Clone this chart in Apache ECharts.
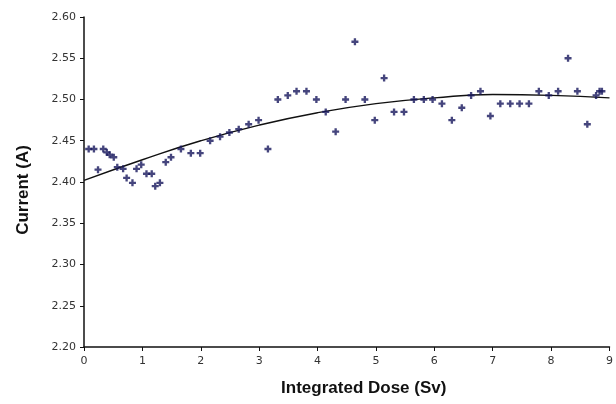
<!DOCTYPE html>
<html>
<head>
<meta charset="utf-8">
<script src="https://cdn.jsdelivr.net/npm/echarts@6/dist/echarts.min.js"></script>
<style>
  html, body { margin: 0; padding: 0; background: #fff; }
  #chart { width: 616px; height: 404px; }
</style>
</head>
<body>
<div id="chart"></div>
<script>
const doseSv = [0.08, 0.17, 0.24, 0.33, 0.39, 0.44, 0.51, 0.57, 0.67, 0.73, 0.83, 0.90, 0.98,
  1.07, 1.16, 1.22, 1.30, 1.40, 1.49, 1.66, 1.83, 1.99, 2.16, 2.33, 2.49, 2.65, 2.82, 2.99,
  3.15, 3.32, 3.49, 3.64, 3.81, 3.98, 4.14, 4.31, 4.48, 4.64, 4.81, 4.98, 5.14, 5.31, 5.48,
  5.65, 5.82, 5.97, 6.13, 6.30, 6.47, 6.63, 6.79, 6.96, 7.13, 7.30, 7.46, 7.62, 7.79, 7.96,
  8.12, 8.29, 8.45, 8.62, 8.77, 8.83, 8.87];
const currentA = [2.440, 2.440, 2.415, 2.440, 2.436, 2.433, 2.430, 2.418, 2.416, 2.405, 2.399, 2.416, 2.421,
  2.410, 2.410, 2.395, 2.399, 2.424, 2.430, 2.440, 2.435, 2.435, 2.450, 2.455, 2.460, 2.464, 2.470, 2.475,
  2.440, 2.500, 2.505, 2.510, 2.510, 2.500, 2.485, 2.461, 2.500, 2.570, 2.500, 2.475, 2.526, 2.485, 2.485,
  2.500, 2.500, 2.500, 2.495, 2.475, 2.490, 2.505, 2.510, 2.480, 2.495, 2.495, 2.495, 2.495, 2.510, 2.505,
  2.510, 2.550, 2.510, 2.470, 2.505, 2.510, 2.510];

// trend line, read at each whole Sv
const trendX = [0, 1, 2, 3, 4, 5, 6, 7, 8, 9];
const trendY = [2.402, 2.427, 2.450, 2.469, 2.484, 2.495, 2.502, 2.506, 2.505, 2.502];

const xTicks = [0, 9, 1];          // min, max, step
const yTicks = [2.20, 2.60, 0.05]; // min, max, step

const chart = echarts.init(document.getElementById('chart'));

const labelStyle = {
  color: '#333',
  fontFamily: 'DejaVu Sans',
  fontSize: 11
};
const nameStyle = {
  color: '#111',
  fontFamily: 'Liberation Sans',
  fontWeight: 'bold',
  fontSize: 17
};

const option = {
  animation: false,
  backgroundColor: '#fff',
  grid: { left: 84, right: 5, top: 17, bottom: 57 },
  xAxis: {
    type: 'value',
    min: xTicks[0],
    max: xTicks[1],
    interval: xTicks[2],
    name: 'Integrated Dose (Sv)',
    nameLocation: 'middle',
    nameGap: 33,
    nameTextStyle: Object.assign({ padding: [0, 0, 0, 34] }, nameStyle),
    axisLine: { lineStyle: { color: '#111', width: 1.5 } },
    axisTick: { show: true, length: 4, lineStyle: { color: '#111' } },
    axisLabel: Object.assign({ margin: 9 }, labelStyle),
    splitLine: { show: false }
  },
  yAxis: {
    type: 'value',
    min: yTicks[0],
    max: yTicks[1],
    interval: yTicks[2],
    name: 'Current (A)',
    nameLocation: 'middle',
    nameGap: 52,
    nameTextStyle: Object.assign({ padding: [0, 16, 0, 0] }, nameStyle),
    axisLine: { show: true, lineStyle: { color: '#111', width: 1.5 } },
    axisTick: { show: true, length: 4, lineStyle: { color: '#111' } },
    axisLabel: Object.assign({
      margin: 8,
      formatter: (v) => v.toFixed(2)
    }, labelStyle),
    splitLine: { show: false }
  },
  series: [
    {
      type: 'scatter',
      data: doseSv.map((x, i) => [x, currentA[i]]),
      symbol: 'path://M2,0H4V2H6V4H4V6H2V4H0V2H2Z',
      symbolSize: 7,
      itemStyle: { color: '#16165c' },
      z: 3
    },
    {
      type: 'line',
      data: trendX.map((x, i) => [x, trendY[i]]),
      smooth: true,
      showSymbol: false,
      lineStyle: { color: '#111', width: 1.4 },
      z: 2
    }
  ]
};

chart.setOption(option);
</script>
</body>
</html>
